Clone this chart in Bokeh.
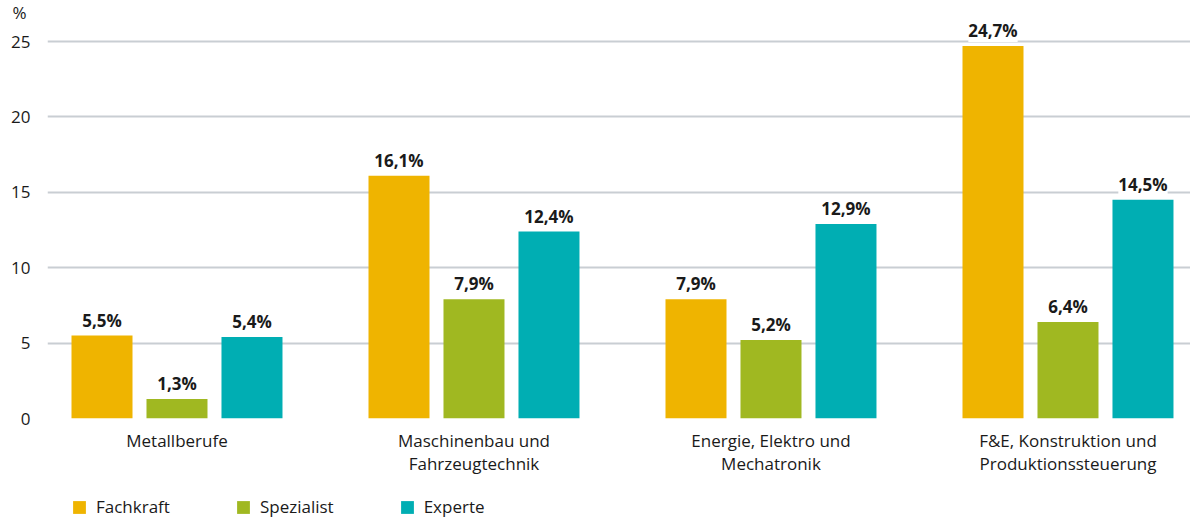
from bokeh.plotting import figure
from bokeh.layouts import column
from bokeh.models import (ColumnDataSource, FixedTicker, LabelSet, Legend, LegendItem, Range1d)
from bokeh.core.properties import value
from bokeh.transform import dodge
from bokeh.embed import file_html
from bokeh.resources import INLINE

categories = ["Metallberufe", "Maschinenbau und\nFahrzeugtechnik",
              "Energie, Elektro und\nMechatronik", "F&E, Konstruktion und\nProduktionssteuerung"]
series = ["Fachkraft", "Spezialist", "Experte"]
fachkraft = [5.5, 16.1, 7.9, 24.7]
spezialist = [1.3, 7.9, 5.2, 6.4]
experte = [5.4, 12.4, 12.9, 14.5]
y_ticks = [0, 5, 10, 15, 20, 25]
unit_label = "%"
colors = ["#EFB400", "#A0B821", "#00AEB3"]

FONT = "Open Sans"
TXT = "#1a1a1a"

def fmt(v):
    return f"{v:.1f}".replace(".", ",") + "%"

idx = list(range(len(categories)))
src = ColumnDataSource(dict(
    x=idx,
    fachkraft=fachkraft, spezialist=spezialist, experte=experte,
    l_fachkraft=[fmt(v) for v in fachkraft],
    l_spezialist=[fmt(v) for v in spezialist],
    l_experte=[fmt(v) for v in experte],
))

p = figure(width=1190, height=477, output_backend="svg", toolbar_location=None,
           x_range=Range1d(-0.436, 3.4125), y_range=Range1d(0, 26.26),
           min_border_left=47, min_border_right=0, min_border_top=0, min_border_bottom=40)
p.outline_line_color = None
p.background_fill_color = "white"

p.title.text = unit_label
p.title.align = "left"
p.title.offset = -35
p.title.standoff = -3
p.title.text_font = FONT
p.title.text_font_size = "17px"
p.title.text_font_style = "normal"
p.title.text_color = TXT

offsets = [-0.2525, 0.0, 0.2525]
cols = ["fachkraft", "spezialist", "experte"]
for col, off, c in zip(cols, offsets, colors):
    p.vbar(x=dodge("x", off), top=col, width=0.2054, source=src,
           fill_color=c, line_color=None)
    ls = LabelSet(x=dodge("x", off), y=col, text="l_" + col, source=src,
                  text_align="center", text_baseline="bottom", y_offset=4,
                  text_font=value(FONT), text_font_size=value("17px"), text_font_style="bold",
                  text_color=TXT, background_fill_color="white")
    p.add_layout(ls)

# axes
p.xaxis.ticker = FixedTicker(ticks=idx)
p.xaxis.major_label_overrides = {i: c for i, c in zip(idx, categories)}
p.xaxis.axis_line_color = None
p.xaxis.major_tick_line_color = None
p.xaxis.minor_tick_line_color = None
p.xaxis.major_tick_out = 0
p.xaxis.major_tick_in = 0
p.xaxis.minor_tick_out = 0
p.xaxis.major_label_standoff = 10
p.xaxis.major_label_text_font = FONT
p.xaxis.major_label_text_font_size = "17px"
p.xaxis.major_label_text_color = TXT
p.xaxis.major_label_text_line_height = 1.0

p.yaxis.ticker = FixedTicker(ticks=y_ticks)
p.yaxis.axis_line_color = None
p.yaxis.major_tick_line_color = None
p.yaxis.minor_tick_line_color = None
p.yaxis.major_tick_out = 0
p.yaxis.major_tick_in = 0
p.yaxis.minor_tick_out = 0
p.yaxis.major_label_standoff = 17
p.yaxis.major_label_text_font = FONT
p.yaxis.major_label_text_font_size = "17px"
p.yaxis.major_label_text_color = TXT

p.xgrid.grid_line_color = None
p.ygrid.grid_line_color = "#c9ced3"
p.ygrid.grid_line_width = 2
p.ygrid.ticker = FixedTicker(ticks=y_ticks)

# legend strip (bars drawn out of its view; only the legend is visible)
p2 = figure(width=1190, height=41, output_backend="svg", toolbar_location=None,
            x_range=Range1d(-20, -19), y_range=Range1d(0, 1),
            x_axis_location=None, y_axis_location=None,
            min_border_left=0, min_border_right=0, min_border_top=0, min_border_bottom=0)
p2.outline_line_color = None
p2.xgrid.visible = False
p2.ygrid.visible = False
items = []
for name, col, off, c in zip(series, cols, offsets, colors):
    r = p2.vbar(x=dodge("x", off), top=col, width=0.2054, source=src,
                fill_color=c, line_color=None)
    items.append(LegendItem(label=name, renderers=[r]))
legend = Legend(items=items, orientation="horizontal", location=(24, 0),
                glyph_width=16, glyph_height=16, label_standoff=9, spacing=65,
                margin=0, padding=0, border_line_color=None,
                background_fill_alpha=0,
                label_text_font=FONT, label_text_font_size="17px", label_text_color=TXT)
p2.add_layout(legend, "center")

layout = column(p, p2, spacing=0)
open("out.html", "w").write(file_html(layout, INLINE))
